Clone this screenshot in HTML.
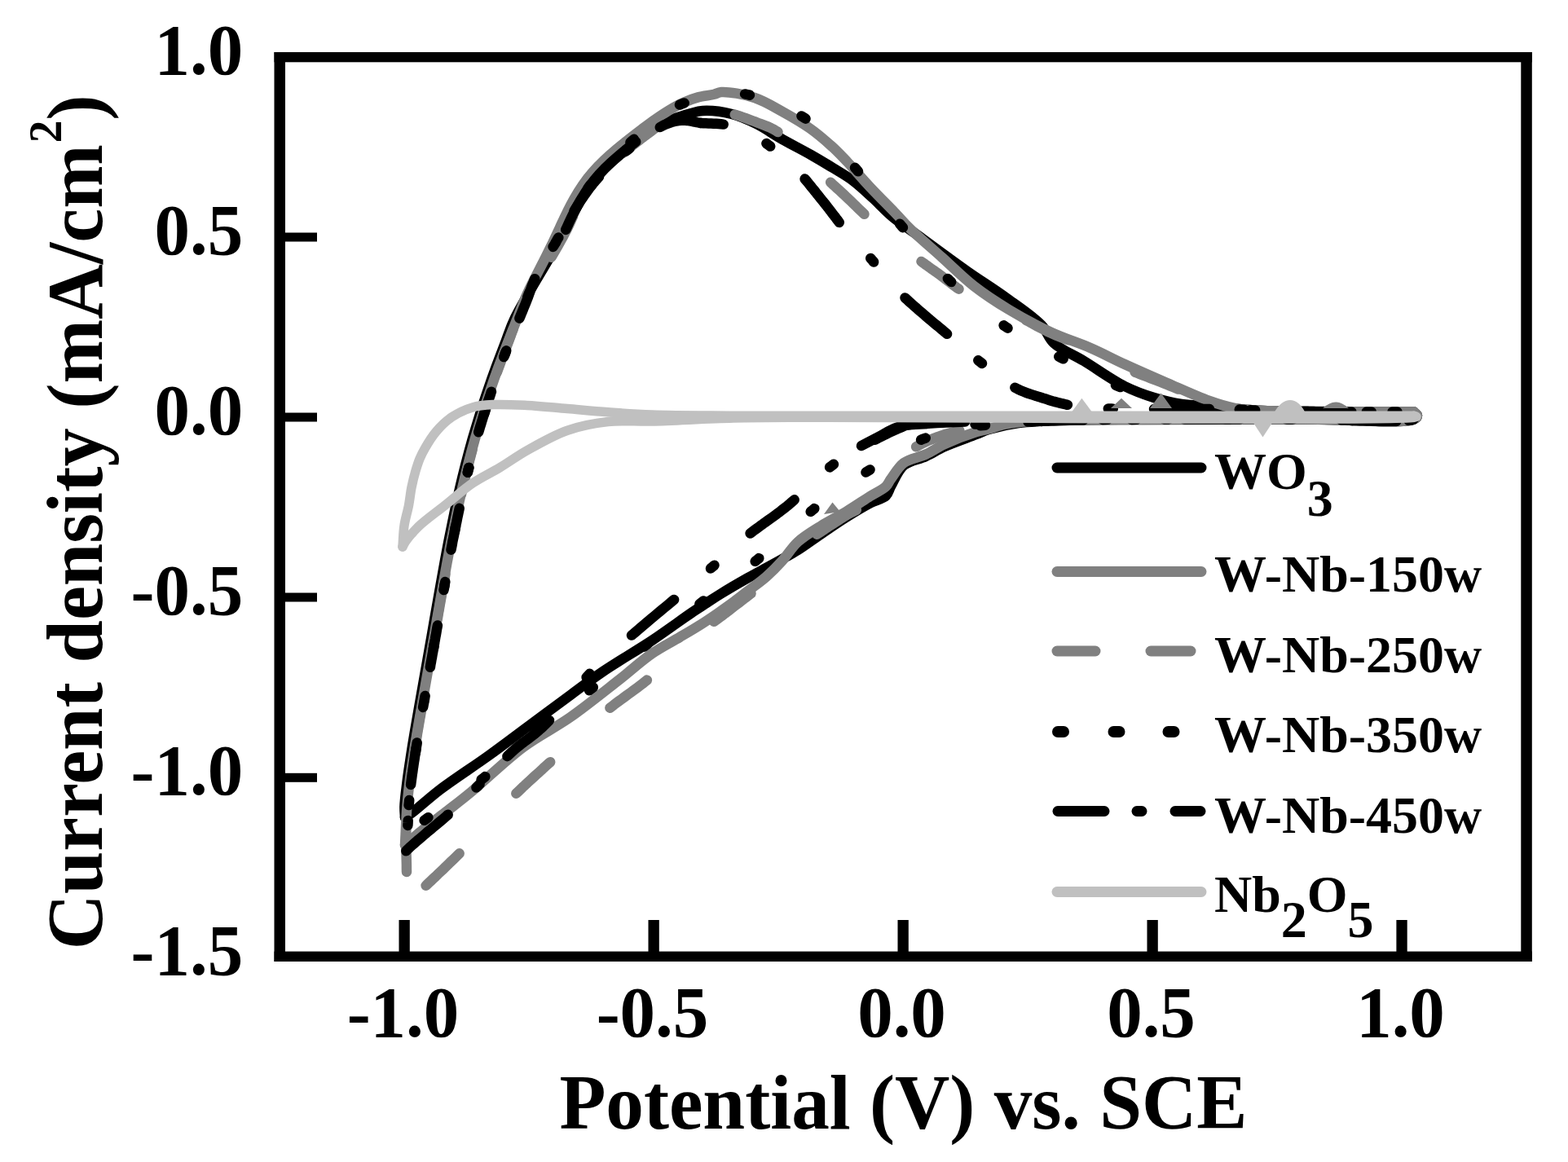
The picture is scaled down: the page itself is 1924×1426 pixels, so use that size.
<!DOCTYPE html>
<html><head><meta charset="utf-8"><title>Cyclic voltammetry</title>
<style>
html,body{margin:0;padding:0;background:#fff;width:1924px;height:1426px;overflow:hidden}
svg{display:block}
text{font-family:"Liberation Serif","Times New Roman",serif;font-weight:bold;fill:#000}
</style></head><body>
<svg width="1924" height="1426" viewBox="0 0 1924 1426" xmlns="http://www.w3.org/2000/svg">
<rect x="0" y="0" width="1924" height="1426" fill="#fff"/>
<!-- CURVES -->
<g id="curves" fill="none" stroke-linejoin="round" stroke-linecap="round">
<path d="M497.0,1003.0 C496.8,998.7 496.3,995.2 496.4,990.0 C496.6,982.1 498.3,970.0 499.5,960.0 C500.7,950.0 502.3,940.0 503.8,930.0 C505.3,920.0 506.9,910.0 508.6,900.0 C510.3,890.0 512.1,880.0 513.8,870.0 C515.6,860.0 517.3,850.0 519.1,840.0 C520.9,830.0 522.6,820.0 524.4,810.0 C526.2,800.0 527.9,790.0 529.7,780.0 C531.4,770.0 533.2,760.0 534.9,750.0 C536.7,740.0 538.4,730.0 540.2,720.0 C542.0,710.0 543.8,700.0 545.6,690.0 C547.5,680.0 549.3,670.0 551.3,660.0 C553.3,650.0 555.3,640.0 557.4,630.0 C559.5,620.0 561.7,610.0 564.0,600.0 C566.3,590.0 568.7,580.0 571.3,570.0 C573.9,560.0 576.6,550.0 579.4,540.0 C582.3,530.0 585.3,520.0 588.4,510.0 C591.5,500.0 594.8,490.0 598.2,480.0 C601.6,470.0 605.1,460.0 608.8,450.0 C612.5,440.0 616.3,430.0 620.2,420.0 C624.1,410.0 625.8,402.8 632.0,390.0 C644.1,364.8 683.2,303.0 694.2,281.9 C698.6,273.5 699.7,269.8 702.7,263.8 C705.7,257.9 708.8,251.9 712.1,246.2 C715.5,240.4 718.9,234.7 722.8,229.3 C726.7,223.9 730.9,218.7 735.4,213.7 C739.8,208.8 744.6,204.1 749.5,199.6 C754.4,195.1 759.5,190.8 764.6,186.5 C769.7,182.2 774.0,178.7 780.2,174.0 C788.9,167.4 802.3,156.1 812.0,151.0 C819.1,147.3 825.7,146.1 832.0,144.0 C837.6,142.1 842.8,140.4 848.0,139.0 C852.8,137.7 856.2,136.3 862.0,136.0 C871.2,135.5 886.7,137.2 898.0,140.0 C908.6,142.7 918.0,147.1 928.0,152.0 C938.7,157.3 949.0,164.8 960.0,171.0 C971.3,177.4 984.1,183.8 995.0,190.0 C1004.6,195.5 1013.2,200.6 1022.0,206.0 C1030.5,211.3 1038.9,215.9 1047.0,222.0 C1055.6,228.5 1063.9,236.6 1072.0,244.0 C1079.9,251.3 1086.1,258.6 1095.0,266.0 C1105.6,274.9 1118.4,283.1 1132.0,293.0 C1148.5,305.0 1169.3,320.5 1187.0,333.0 C1203.2,344.4 1218.8,353.9 1234.0,365.0 C1249.1,375.9 1267.7,388.1 1278.0,399.0 C1285.1,406.5 1285.9,414.4 1293.0,421.0 C1302.0,429.4 1316.8,435.0 1330.0,443.0 C1345.5,452.4 1364.4,466.2 1380.0,474.0 C1392.7,480.3 1404.0,484.3 1416.0,488.0 C1427.4,491.5 1438.1,494.2 1450.0,496.0 C1462.7,498.0 1475.9,497.8 1490.0,499.0 C1505.7,500.3 1522.6,502.5 1540.0,503.5 C1559.1,504.6 1576.0,504.7 1600.0,505.0 C1636.0,505.5 1690.0,505.3 1735.0,505.5" stroke="#000" stroke-width="12.5"/>
<path d="M1735.0,505.5 C1736.3,507.0 1739.0,508.5 1739.0,510.0 C1739.0,511.5 1737.8,513.3 1735.0,514.5 C1721.9,520.4 1649.4,514.4 1600.0,514.5 C1539.9,514.6 1455.2,514.7 1400.0,515.0 C1360.9,515.2 1327.6,515.0 1300.0,516.0 C1280.5,516.7 1265.3,516.9 1250.0,519.0 C1236.7,520.8 1222.5,524.1 1213.0,527.0 C1206.8,528.9 1204.2,530.6 1198.0,533.0 C1188.1,536.9 1170.2,543.0 1159.0,548.0 C1150.2,552.0 1144.1,556.3 1136.0,560.0 C1127.4,564.0 1116.1,565.0 1109.0,571.0 C1101.7,577.2 1097.0,590.0 1093.0,597.0 C1090.4,601.6 1090.3,605.4 1087.0,608.6 C1082.7,612.7 1074.6,613.8 1067.6,617.5 C1058.7,622.2 1047.8,628.8 1038.0,635.0 C1027.9,641.3 1017.9,648.3 1008.0,655.0 C998.2,661.6 987.7,669.5 979.0,675.0 C972.1,679.4 966.4,682.4 960.0,686.0 C953.4,689.7 946.8,693.3 940.0,697.0 C932.8,700.9 926.1,704.4 918.0,709.0 C907.9,714.7 893.3,723.2 884.0,729.0 C877.3,733.1 872.7,736.3 867.0,740.0 C861.3,743.7 857.1,746.2 850.0,751.0 C837.7,759.3 817.6,774.3 800.0,786.0 C781.0,798.6 757.8,811.9 740.0,824.0 C725.1,834.1 714.0,842.7 700.0,853.0 C684.2,864.5 666.7,877.7 650.0,890.0 C633.3,902.3 617.5,914.4 600.0,927.0 C581.0,940.7 557.0,956.1 540.0,969.0 C526.8,979.0 513.8,991.2 506.0,997.0 C502.1,999.9 500.0,1001.0 497.0,1003.0" stroke="#000" stroke-width="12.5"/>
<path d="M497.0,1037.0 C497.3,1031.3 497.5,1026.5 497.8,1020.0 C498.2,1011.4 498.6,1000.0 499.4,990.0 C500.2,980.0 501.3,970.0 502.5,960.0 C503.7,950.0 505.3,940.0 506.8,930.0 C508.3,920.0 509.9,910.0 511.6,900.0 C513.3,890.0 515.1,880.0 516.8,870.0 C518.6,860.0 520.3,850.0 522.1,840.0 C523.9,830.0 525.6,820.0 527.4,810.0 C529.2,800.0 530.9,790.0 532.7,780.0 C534.4,770.0 536.2,760.0 537.9,750.0 C539.7,740.0 541.4,730.0 543.2,720.0 C545.0,710.0 546.8,700.0 548.6,690.0 C550.5,680.0 552.3,670.0 554.3,660.0 C556.3,650.0 558.3,640.0 560.4,630.0 C562.5,620.0 564.7,610.0 567.0,600.0 C569.3,590.0 571.7,580.0 574.3,570.0 C576.9,560.0 579.6,550.0 582.4,540.0 C585.3,530.0 588.3,520.0 591.4,510.0 C594.5,500.0 597.8,490.0 601.2,480.0 C604.6,470.0 608.1,460.0 611.8,450.0 C615.5,440.0 619.3,430.0 623.2,420.0 C627.1,410.0 631.0,400.0 635.0,390.0 C639.0,380.0 642.2,370.8 647.1,360.0 C653.2,346.6 663.7,327.4 669.4,315.9 C673.0,308.6 675.3,303.9 678.2,297.9 C681.1,291.9 683.9,285.8 686.7,279.8 C689.5,273.8 692.2,267.7 695.2,261.7 C698.1,255.7 701.1,249.8 704.4,244.0 C707.7,238.2 711.2,232.5 715.0,227.0 C718.8,221.5 722.9,216.2 727.3,211.2 C731.6,206.2 736.3,201.4 741.1,196.8 C745.9,192.2 750.9,187.8 756.0,183.5 C761.1,179.2 766.4,175.0 771.6,170.9 C776.8,166.8 782.1,162.7 787.4,158.7 C792.7,154.7 798.0,150.6 803.5,146.8 C809.0,143.0 814.5,139.2 820.2,135.8 C825.9,132.4 831.7,129.0 837.8,126.3 C843.8,123.6 850.1,121.1 856.5,119.4 C862.9,117.6 871.0,117.1 876.2,115.8 C879.8,114.9 880.9,113.3 885.0,113.0 C893.6,112.4 913.3,115.8 926.0,120.0 C938.2,124.0 948.9,130.9 960.0,137.0 C971.2,143.2 982.8,149.8 993.0,157.0 C1002.7,163.8 1011.8,171.6 1020.0,179.0 C1027.4,185.6 1032.9,191.6 1040.0,199.0 C1048.4,207.9 1057.4,218.8 1067.0,229.0 C1077.4,240.1 1090.8,253.4 1100.0,263.0 C1106.6,269.9 1110.0,274.2 1117.0,281.0 C1127.2,290.9 1143.0,304.3 1156.0,316.0 C1169.0,327.7 1181.3,340.3 1195.0,351.0 C1208.6,361.6 1222.7,370.8 1238.0,380.0 C1254.3,389.8 1272.8,400.0 1290.0,408.0 C1306.1,415.5 1322.6,420.3 1338.0,427.0 C1352.6,433.3 1365.2,440.2 1380.0,447.0 C1396.4,454.5 1414.6,462.5 1432.0,470.0 C1449.3,477.5 1468.8,486.6 1484.0,492.0 C1495.5,496.1 1505.1,499.1 1515.0,501.0 C1523.7,502.7 1529.9,502.9 1540.0,503.5 C1555.7,504.5 1576.0,504.7 1600.0,505.0 C1636.0,505.5 1690.0,505.3 1735.0,505.5" stroke="#808080" stroke-width="12.5"/>
<path d="M1735.0,505.5 C1736.3,507.0 1739.0,508.5 1739.0,510.0 C1739.0,511.5 1737.8,513.3 1735.0,514.5 C1721.9,520.4 1653.9,514.4 1600.0,514.5 C1519.7,514.6 1357.6,513.9 1300.0,515.5 C1276.7,516.1 1263.5,516.7 1251.0,518.0 C1243.2,518.8 1238.3,519.6 1232.0,521.0 C1225.6,522.4 1219.0,524.9 1213.0,526.5 C1207.7,527.9 1204.1,528.1 1198.0,530.0 C1188.0,533.1 1170.2,539.9 1159.0,545.0 C1150.2,549.1 1144.1,553.7 1136.0,557.5 C1127.5,561.5 1116.3,562.6 1109.0,568.0 C1102.2,573.0 1097.0,582.6 1093.0,588.0 C1090.4,591.5 1090.0,594.1 1087.0,597.0 C1082.6,601.2 1074.7,604.5 1067.6,609.0 C1058.8,614.6 1048.0,622.0 1038.0,628.0 C1028.1,634.0 1017.8,638.9 1008.0,645.0 C998.1,651.2 987.2,657.5 979.0,665.0 C971.4,671.9 966.6,680.7 960.0,688.0 C953.6,695.1 947.0,701.8 940.0,708.0 C933.0,714.1 924.9,719.7 918.0,725.0 C912.0,729.6 907.0,733.6 901.0,738.0 C894.4,742.9 887.0,748.1 880.0,753.0 C873.0,757.8 866.4,762.3 859.0,767.0 C851.1,772.0 843.0,776.7 834.0,782.0 C823.5,788.2 811.5,794.1 800.0,802.0 C786.9,811.0 774.7,822.5 760.0,834.0 C742.1,848.0 720.1,865.9 700.0,880.0 C680.8,893.5 661.3,902.7 642.0,917.0 C620.6,932.9 595.3,957.7 578.0,972.0 C566.6,981.4 558.3,987.7 549.0,995.0 C540.4,1001.7 532.4,1007.2 524.0,1014.0 C515.1,1021.2 506.0,1029.3 497.0,1037.0" stroke="#808080" stroke-width="12.5"/>
<path d="M499.0,1070.0 L498.9,1066.1 498.9,1062.2 498.8,1058.2 498.7,1054.2 498.6,1050.2 498.5,1046.2 498.4,1042.2 498.3,1038.3 498.3,1034.4 498.2,1030.7 498.2,1027.0 498.3,1023.4 498.3,1020.0 498.4,1016.6 498.5,1013.7 M509.7,914.9 L510.2,911.5 510.7,908.5 511.2,905.4 511.7,902.3 512.2,899.2 512.7,896.2 513.3,893.1 513.8,890.0 514.3,886.9 514.9,883.8 515.4,880.8 516.0,877.7 516.5,874.6 517.0,871.5 517.6,868.5 518.1,865.4 518.7,862.3 519.2,859.2 519.3,858.7 M536.5,760.7 L537.1,757.7 537.6,754.6 538.1,751.5 538.7,748.5 539.2,745.4 539.7,742.3 540.3,739.2 540.8,736.2 541.4,733.1 541.9,730.0 542.5,726.9 543.0,723.8 543.6,720.8 544.1,717.7 544.7,714.6 545.2,711.5 545.8,708.5 546.3,705.4 546.4,704.6 M565.9,607.0 L566.6,603.8 567.3,600.8 568.0,597.7 568.8,594.6 569.5,591.5 570.2,588.5 571.0,585.4 571.7,582.3 572.5,579.2 573.2,576.1 574.0,573.1 574.8,570.0 575.6,566.9 576.4,563.8 577.2,560.8 578.0,557.7 578.9,554.6 579.6,551.7 M609.8,456.9 L610.9,453.8 612.0,450.8 613.2,447.7 614.3,444.6 615.4,441.5 616.6,438.4 617.8,435.4 619.0,432.3 620.1,429.2 621.3,426.1 622.5,423.1 623.7,420.0 624.8,417.0 625.9,414.1 627.1,410.6 628.4,407.1 629.5,404.3 629.7,403.5 M676.5,315.7 L679.3,310.9 681.0,307.9 682.6,305.1 684.2,302.3 685.7,299.6 688.6,294.5 691.1,289.9 693.3,285.7 695.2,282.2 696.7,279.2 698.2,276.0 699.5,273.3 700.8,270.4 702.0,267.5 703.1,265.4 M764.3,188.1 L766.9,185.9 769.3,184.0 771.7,182.0 774.1,180.1 776.5,178.2 778.9,176.3 781.3,174.4 783.7,172.5 786.2,170.6 788.6,168.8 791.0,166.9 793.5,165.1 796.0,163.2 798.4,161.4 800.9,159.5 803.4,157.7 805.9,155.9 808.3,154.1 809.4,153.3 M901.8,140.6 L904.9,141.6 908.1,142.7 911.3,143.8 914.5,144.9 917.7,146.1 920.9,147.3 924.2,148.5 927.4,149.7 930.6,151.0 933.8,152.2 937.0,153.4 940.2,154.6 943.4,155.9 946.6,157.4 949.8,159.1 953.0,161.0 954.5,162.0 M1019.1,223.7 L1021.3,225.8 1024.2,228.4 1027.1,231.1 1030.0,233.7 1032.9,236.4 1035.8,239.0 1038.6,241.7 1041.4,244.3 1044.0,246.8 1046.7,249.4 1049.3,251.9 1051.8,254.5 1054.4,257.0 1057.1,259.6 1059.7,262.1 1060.5,262.8 M1130.5,321.0 L1133.5,323.1 1136.3,325.2 1139.2,327.2 1142.1,329.3 1145.0,331.3 1147.9,333.4 1150.8,335.4 1153.7,337.5 1156.6,339.7 1159.4,341.9 1162.2,344.0 1165.0,346.2 1167.8,348.4 1170.7,350.6 1173.7,352.8 1176.5,354.7 M1259.1,392.9 L1262.2,394.6 1264.9,396.1 1267.5,397.5 1270.2,399.0 1272.8,400.4 1276.8,402.5 1280.8,404.5 1284.7,406.5 1288.7,408.4 1292.5,410.1 1296.2,411.7 1300.0,413.2 1303.7,414.7 1307.5,416.1 1310.6,417.2 M1392.6,456.6 L1395.5,457.8 1399.5,459.4 1403.5,461.0 1407.6,462.5 1411.7,464.1 1415.8,465.7 1419.9,467.2 1423.9,468.8 1428.0,470.4 1432.0,472.0 1436.0,473.6 1440.1,475.3 1444.3,477.1 1445.5,477.6 M1532.5,503.0 L1535.6,503.2 1539.2,503.5 1542.4,503.6 1546.3,503.8 1550.2,504.0 1554.4,504.2 1558.6,504.3 1563.1,504.4 1566.1,504.5 1569.2,504.5 1572.4,504.6 1575.6,504.6 1578.9,504.7 1582.3,504.8 1585.7,504.8 1589.2,504.8 1589.5,504.9 M1680.6,505.4 L1684.3,505.4 1688.0,505.4 1691.7,505.4 1695.4,505.4 1699.1,505.4 1702.7,505.4 1706.4,505.4 1710.1,505.4 1713.7,505.4 1717.3,505.5 1720.9,505.5 1724.5,505.5 1728.0,505.5 1731.5,505.5 1735.0,505.5" stroke="#808080" stroke-width="12.5"/>
<path d="M1675.3,516.4 L1668.7,516.2 1664.5,516.1 1660.3,515.9 1656.0,515.8 1651.7,515.6 1647.4,515.5 1643.1,515.3 1638.7,515.2 1634.3,515.1 1630.0,514.9 1625.6,514.8 1621.3,514.7 1618.3,514.7 M1509.0,514.2 L1500.3,514.2 1491.6,514.2 1482.8,514.1 1474.0,514.1 1465.1,514.1 1456.3,514.0 1452.0,514.0 M1342.7,514.2 L1334.7,514.3 1328.1,514.4 1321.9,514.5 1315.9,514.6 1310.2,514.7 1304.9,514.8 1300.0,515.0 1295.8,515.1 1291.9,515.3 1288.1,515.5 1285.7,515.6 M1177.3,528.3 L1173.5,529.3 1169.8,530.2 1166.1,531.2 1162.5,532.2 1159.0,533.3 1155.5,534.4 1152.1,535.6 1149.0,536.7 1146.1,537.9 1143.2,539.1 1140.3,540.3 1137.4,541.5 1134.6,542.8 1131.8,544.2 1129.1,545.5 1125.6,547.4 1124.1,548.2 M1050.8,625.9 L1048.1,627.3 1044.9,628.8 1041.8,630.4 1038.8,632.1 1035.7,634.0 1032.6,636.0 1029.5,637.9 1026.4,639.9 1023.3,641.9 1020.2,643.9 1017.2,645.9 1014.1,647.9 1011.0,650.0 1008.0,652.0 1005.0,654.0 1002.3,655.7 M921.5,728.3 L918.6,730.5 915.4,733.0 912.6,735.1 909.7,737.4 906.7,739.7 903.6,742.0 900.5,744.4 897.4,746.8 894.3,749.2 891.2,751.6 888.2,753.8 885.4,756.0 882.6,758.1 880.0,760.0 877.0,762.1 876.1,762.8 M793.9,834.6 L790.7,837.2 788.1,839.3 785.4,841.3 782.6,843.4 779.8,845.5 777.0,847.6 774.1,849.7 771.2,851.8 768.3,853.9 765.3,856.1 762.4,858.2 759.4,860.4 756.5,862.6 753.5,864.8 750.6,867.1 748.4,868.8 M675.2,935.2 L672.8,937.3 669.9,939.9 667.0,942.5 664.2,945.2 661.3,947.8 658.4,950.4 655.5,953.0 652.7,955.6 649.8,958.3 646.9,960.9 644.1,963.6 641.2,966.2 638.4,968.9 635.5,971.7 633.3,973.8 M563.7,1047.3 L561.4,1049.6 558.4,1052.6 555.4,1055.5 552.3,1058.4 549.3,1061.4 546.3,1064.3 543.3,1067.2 540.3,1070.0 537.3,1072.8 534.5,1075.6 531.7,1078.2 528.9,1080.8 526.3,1083.3 523.8,1085.6 522.6,1086.8" stroke="#808080" stroke-width="12.5"/>
<path d="M694.2,281.9 C697.0,275.9 699.7,269.8 702.7,263.8 C705.7,257.9 708.8,251.9 712.1,246.2 C715.5,240.4 718.9,234.7 722.8,229.3 C726.7,223.9 730.9,218.7 735.4,213.7 C739.8,208.8 744.6,204.1 749.5,199.6 C754.4,195.1 759.5,190.8 764.6,186.5 C769.7,182.2 775.0,178.2 780.2,174.0" stroke="#000" stroke-width="12.5"/>
<path d="M501.6,988.1 L502.0,984.4 502.2,982.1 M509.8,923.8 L510.2,920.8 510.7,917.9 M520.6,859.9 L521.1,856.9 521.6,854.0 M531.9,796.0 L532.4,793.1 532.9,790.1 M545.2,719.9 L545.7,716.9 546.3,714.0 M557.9,652.2 L558.4,649.2 559.0,646.3 M573.8,579.8 L574.5,576.9 575.3,574.0 M594.0,508.2 L594.9,505.4 595.8,502.5 M619.1,435.9 L620.2,433.1 621.2,430.3 M647.2,364.6 L648.5,361.5 649.5,359.0 M682.3,296.7 L683.9,293.8 685.3,291.5 M721.5,230.9 L723.3,228.4 725.0,226.1 M773.4,174.8 L776.0,172.5 777.9,170.8 M834.0,128.6 L837.2,127.3 839.6,126.4" stroke="#000" stroke-width="12.5"/>
<path d="M914.1,115.4 L917.0,116.0 919.9,116.7 M983.5,142.4 L986.0,144.0 988.5,145.7 M1049.0,205.8 L1051.0,208.0 1053.0,210.3 M1104.1,274.7 L1106.0,277.0 1107.9,279.3 M1162.9,341.9 L1165.0,344.0 1167.2,346.1 M1231.6,399.3 L1234.0,401.0 1236.5,402.7 M1299.3,437.7 L1302.0,439.0 1304.7,440.3 M1369.0,472.7 L1372.0,474.0 1374.5,475.1 M1443.1,496.4 L1446.7,497.0 1449.0,497.2 M1520.8,502.6 L1524.5,502.8 1526.8,502.9 M1598.8,505.0 L1602.8,505.0 1604.8,505.1 M1676.8,505.4 L1680.6,505.4 1682.8,505.4" stroke="#000" stroke-width="12.5"/>
<path d="M1734.5,514.7 L1731.0,515.7 1728.6,516.0 M1659.5,515.9 L1656.0,515.7 1653.6,515.7 M1584.4,514.5 L1580.3,514.5 1578.4,514.5 M1509.3,514.4 L1503.3,514.4 M1434.2,514.4 L1428.2,514.4 M1359.0,514.8 L1353.0,514.9 M1283.9,516.6 L1279.3,516.8 1277.9,516.9 M1209.0,521.7 L1206.0,522.0 1203.0,522.3 M1135.7,537.6 L1132.9,538.6 1130.1,539.8 M1067.5,576.4 L1065.0,578.0 1062.5,579.6 M999.3,624.1 L997.0,626.0 994.7,627.9 M931.3,685.1 L929.0,687.0 926.7,688.9 M863.2,737.5 L860.0,740.0 858.4,741.2 M795.0,790.0 L791.7,792.6 790.3,793.7 M727.8,843.5 L723.9,846.6 723.1,847.2 M660.3,896.8 L656.5,899.9 655.7,900.6 M595.3,953.1 L593.0,955.0 590.6,956.8 M525.4,1003.2 L523.0,1005.0 520.6,1006.8" stroke="#000" stroke-width="12.5"/>
<path d="M504.1,962.9 L504.6,959.2 505.0,956.2 505.4,953.1 505.8,950.0 506.3,946.9 506.7,943.8 507.2,940.8 507.6,937.7 508.1,934.6 508.6,931.5 509.0,928.5 509.5,925.4 510.0,922.3 510.5,919.2 511.0,916.1 511.5,913.1 511.7,911.5 M527.9,818.7 L528.4,815.4 529.0,812.3 529.5,809.2 530.1,806.2 530.6,803.1 531.2,800.0 531.7,796.9 532.3,793.8 532.8,790.8 533.3,787.7 533.9,784.6 534.4,781.5 535.0,778.5 535.5,775.4 536.0,772.3 536.6,769.2 536.9,767.5 M553.5,674.7 L554.1,671.5 554.7,668.5 555.2,665.4 555.8,662.3 556.5,659.2 557.1,656.2 557.7,653.1 558.3,650.0 558.9,646.9 559.5,643.8 560.2,640.8 560.8,637.7 561.4,634.6 562.1,631.5 562.7,628.5 563.4,625.4 563.7,623.8 M587.2,530.2 L588.2,526.9 589.1,523.8 590.1,520.8 591.0,517.7 592.0,514.6 592.9,511.5 593.9,508.5 594.9,505.4 595.8,502.3 596.8,499.2 597.8,496.1 598.8,493.1 599.8,490.0 600.9,486.9 601.9,483.8 602.9,480.8 603.0,480.7 M637.4,390.6 L638.7,387.5 639.9,384.5 641.1,381.7 642.2,378.9 643.9,374.9 645.4,371.2 646.7,367.8 648.0,364.5 649.1,361.3 650.1,358.4 651.2,355.2 652.3,352.1 653.5,348.9 654.7,346.1 655.8,343.3 656.3,342.2 M704.6,258.8 L706.4,255.8 708.0,253.2 709.7,250.6 711.3,248.0 713.0,245.5 714.8,242.9 716.5,240.4 718.3,237.9 720.0,235.4 721.9,232.9 723.7,230.4 725.6,228.0 727.5,225.6 729.5,223.2 731.5,220.9 733.5,218.6 735.1,216.8 M809.8,156.1 L812.5,154.6 815.3,153.2 818.1,152.0 820.9,151.0 823.8,150.0 826.8,149.2 829.7,148.5 832.8,148.0 835.9,147.7 839.2,147.6 842.7,147.9 846.2,148.4 849.2,148.9 852.2,149.5 855.2,150.2 858.2,150.7 859.9,151.0 M500.4,1012.9 L500.6,1009.8 500.7,1006.9 M519.1,868.0 L519.7,864.6 520.2,862.1 M544.5,724.0 L545.1,720.8 545.5,718.1 M573.9,579.7 L574.7,576.1 575.3,573.9 M618.2,438.1 L619.3,435.1 620.3,432.5 M678.6,302.9 L680.4,300.1 681.8,297.8 M767.9,185.7 L770.3,183.8 772.6,181.9" stroke="#000" stroke-width="12.5"/>
<path d="M860.0,151.0 L863.1,151.2 866.2,151.3 869.3,151.4 872.5,151.5 875.6,151.7 878.7,151.8 881.8,152.0 884.8,152.3 887.7,152.6 M987.6,219.6 L990.4,222.9 992.4,225.4 994.5,228.0 996.5,230.5 998.6,233.0 1000.6,235.5 1002.5,238.0 1004.4,240.3 1007.2,243.8 1009.7,246.9 1011.8,249.5 1013.8,252.0 1015.7,254.5 1017.6,256.9 1019.4,259.3 1021.8,262.5 1024.3,265.7 1026.1,268.1 1028.0,270.5 1029.8,272.9 M1110.5,365.5 L1113.2,367.9 1115.8,370.3 1118.4,372.6 1121.0,375.0 1123.6,377.2 1126.1,379.5 1128.7,381.7 1131.2,383.8 1133.6,385.9 1136.0,388.0 1138.6,390.2 1141.0,392.3 1143.4,394.3 1145.7,396.2 1148.0,398.1 1150.4,400.0 1152.8,402.0 1155.3,404.1 1157.9,406.3 1161.0,408.8 1162.1,409.8 M1245.4,475.7 L1248.5,477.3 1251.8,478.9 1255.1,480.3 1258.4,481.6 1261.6,482.8 1264.9,483.9 1268.1,484.9 1271.4,485.9 1274.7,486.9 1278.0,488.0 1281.3,489.1 1284.7,490.1 1288.0,491.2 1291.3,492.2 1294.7,493.1 1298.1,494.0 1301.5,494.9 1304.9,495.7 1308.4,496.5 1309.9,496.8 M1416.0,502.1 L1419.5,502.1 1423.7,502.0 1427.9,502.0 1432.1,502.0 1436.4,502.0 1440.7,502.0 1445.0,501.9 1449.3,501.9 1453.5,501.9 1457.8,501.9 1462.0,501.9 1466.1,501.9 1470.2,501.9 1474.2,501.9 1478.1,502.0 1481.6,502.0 1484.0,502.1 M1590.4,504.8 L1594.6,504.9 1598.2,505.0 1602.8,505.0 1608.6,505.1 1611.6,505.1 1614.7,505.2 1617.8,505.2 1621.0,505.2 1624.2,505.2 1627.5,505.3 1630.8,505.3 1634.2,505.3 1637.6,505.3 1641.0,505.3 1644.5,505.3 1648.0,505.3 1651.5,505.4 1655.1,505.4 1658.4,505.4 M940.4,176.1 L943.0,178.0 945.2,179.6 M1068.2,316.9 L1070.9,320.0 1072.1,321.5 M1200.3,442.3 L1202.7,444.2 1205.0,446.0 M1359.8,501.5 L1363.8,501.6 1365.8,501.7 M1534.2,503.3 L1538.5,503.5 1540.2,503.5 M1708.5,505.4 L1713.7,505.4 1714.5,505.4" stroke="#000" stroke-width="12.5"/>
<path d="M1713.4,517.0 L1709.3,517.1 1706.2,517.1 1702.9,517.1 1699.5,517.0 1695.9,517.0 1692.3,516.9 1688.6,516.8 1684.7,516.7 1680.8,516.6 1676.9,516.5 1672.8,516.3 1668.7,516.2 1664.5,516.0 1660.3,515.9 1656.0,515.7 1651.7,515.6 1647.4,515.4 1645.4,515.4 M1521.4,514.6 L1511.9,514.6 1503.6,514.6 1495.3,514.6 1486.9,514.6 1478.5,514.6 1470.0,514.6 1461.5,514.6 1453.4,514.6 M1329.4,515.5 L1325.6,515.5 1318.9,515.6 1312.3,515.7 1306.0,515.9 1300.0,516.0 1296.3,516.1 1292.7,516.2 1289.1,516.3 1285.6,516.4 1282.1,516.5 1278.7,516.7 1275.3,516.8 1271.9,516.9 1268.6,517.1 1265.4,517.2 1262.1,517.3 1261.4,517.4 M1137.5,520.1 L1133.9,520.1 1130.7,520.0 1127.6,520.1 1123.3,520.2 1119.4,520.5 1116.0,521.0 1112.9,521.6 1109.8,522.6 1106.8,523.9 1103.7,525.3 1100.3,526.7 1096.7,528.3 1093.8,529.7 1090.6,531.2 1087.3,532.8 1084.0,534.4 1080.5,536.2 1077.0,537.9 1073.6,539.7 M974.7,613.3 L971.1,616.5 968.4,618.9 965.7,621.1 963.0,623.2 960.3,625.3 957.6,627.4 954.9,629.4 952.2,631.5 949.5,633.5 946.7,635.5 944.0,637.4 941.2,639.4 938.5,641.3 935.8,643.3 933.1,645.2 930.4,647.2 927.8,649.1 925.1,651.1 922.6,653.0 920.6,654.5 M827.1,735.9 L823.2,739.1 819.9,741.9 816.5,744.7 813.1,747.6 809.7,750.4 806.2,753.3 802.7,756.2 799.3,759.1 795.8,762.1 792.4,764.9 789.0,767.8 785.6,770.6 782.3,773.4 779.1,776.2 776.0,778.9 775.0,779.6 M674.0,884.0 L671.5,886.5 668.5,889.6 666.0,892.0 662.9,894.8 659.9,897.3 657.0,899.8 654.1,902.1 651.3,904.3 648.5,906.4 645.7,908.5 642.9,910.6 640.1,912.6 637.4,914.8 634.6,917.0 631.9,919.4 629.0,921.9 626.1,924.6 623.3,927.3 622.4,928.2 M549.7,999.8 L547.1,1002.1 543.5,1005.2 539.7,1008.4 535.8,1011.7 531.8,1015.0 527.8,1018.4 523.7,1021.7 519.8,1025.1 515.9,1028.4 512.1,1031.6 508.6,1034.7 505.3,1037.6 502.2,1040.4 499.5,1043.0 498.3,1044.3 M1586.4,514.5 L1580.4,514.5 1580.4,514.5 M1394.4,514.8 L1388.4,514.9 M1202.5,520.4 L1198.7,520.5 1196.5,520.6 M1022.9,569.8 L1020.0,572.0 1018.1,573.4 M876.5,693.7 L874.0,695.9 872.0,697.6 M723.6,826.8 L720.1,830.7 719.6,831.2 M588.6,962.3 L586.4,964.6 584.4,966.5" stroke="#000" stroke-width="12.5"/>
<g stroke="none" fill="#808080">
<path d="M1363,501 L1376,488.7 L1389,501 Z"/>
<path d="M1411,501 L1424.7,482.5 L1438,501 Z"/>
<path d="M1623,501 Q1632,493 1639.3,493.5 Q1646,493 1655,501 Z"/>
<path d="M1011,631 L1021.5,616.5 L1031,628 Z"/>
</g>
<g fill="none" stroke="#000" stroke-width="12.5" stroke-linecap="round" stroke-linejoin="round">
<path d="M1184,517.5 L1150,519 L1112,521.5 Q1100,523 1080,535 L1057,547"/>
</g>
<path d="M494.0,671.0 C494.7,662.3 494.7,653.6 496.0,645.0 C497.3,636.5 500.1,627.8 501.6,619.7 C503.0,612.2 503.6,605.0 505.0,598.0 C506.4,591.2 508.1,584.2 509.9,578.1 C511.5,572.7 513.0,567.8 515.0,563.0 C516.9,558.4 518.8,554.6 521.6,549.8 C525.1,543.7 529.6,536.1 534.9,529.9 C540.5,523.3 547.4,516.6 554.8,511.6 C562.3,506.6 571.3,502.4 579.8,499.9 C587.9,497.5 595.3,497.1 604.7,496.6 C616.8,495.9 631.8,496.7 646.3,497.4 C662.2,498.2 679.6,500.2 696.2,501.6 C712.8,503.0 729.1,504.6 746.1,505.8 C763.7,507.1 779.3,508.3 800.0,509.0 C828.2,510.0 857.7,509.9 900.0,510.2 C973.2,510.6 1085.6,510.2 1200.0,510.2 C1352.7,510.2 1556.7,510.2 1735.0,510.2" stroke="#c0c0c0" stroke-width="11.5"/>
<path d="M1735.0,510.2 C1736.0,510.5 1738.0,510.9 1738.0,511.2 C1738.0,511.5 1736.9,511.9 1735.0,512.2 C1705.6,517.0 1132.0,511.7 1000.0,512.2 C951.3,512.4 933.3,512.2 900.0,513.0 C866.7,513.8 828.2,516.3 800.0,517.0 C779.3,517.5 763.6,515.6 746.1,517.5 C729.0,519.4 712.5,522.5 696.2,528.2 C679.2,534.1 661.1,544.7 646.3,553.0 C633.9,560.0 624.2,567.3 613.0,574.0 C602.0,580.6 590.6,585.7 579.8,593.1 C568.4,600.9 557.6,610.8 546.5,619.7 C535.4,628.6 522.0,638.0 513.3,646.3 C506.9,652.5 501.3,659.3 498.0,664.0 C496.1,666.8 495.3,668.7 494.0,671.0" stroke="#c0c0c0" stroke-width="11.5"/>
<g stroke="none" fill="#c0c0c0">
<path d="M1314,507 L1327.4,488.7 L1341,507 Z"/>
<path d="M1563,507 Q1572,491 1583,491 Q1594,491 1602,507 Z"/>
<path d="M1536,516 L1549.5,536.5 L1563,516 Z"/>
</g>
</g>
<!-- FRAME -->
<g fill="#000">
<rect x="336.5" y="64" width="1543.5" height="12.3"/>
<rect x="336.5" y="1167.6" width="1543.5" height="12.4"/>
<rect x="336.5" y="64" width="13.5" height="1116"/>
<rect x="1866.3" y="64" width="13.5" height="1116"/>
<!-- y ticks -->
<rect x="350" y="285.5" width="39" height="11"/>
<rect x="350" y="506.5" width="39" height="11"/>
<rect x="350" y="727.5" width="39" height="11"/>
<rect x="350" y="948.8" width="39" height="11"/>
<!-- x ticks -->
<rect x="489.5" y="1129" width="13.3" height="40"/>
<rect x="795.5" y="1129" width="13.3" height="40"/>
<rect x="1101.5" y="1129" width="13.3" height="40"/>
<rect x="1407.5" y="1129" width="13.3" height="40"/>
<rect x="1713.4" y="1129" width="13.3" height="40"/>
</g>
<!-- TICK LABELS -->
<g font-size="87" text-anchor="end">
<text transform="translate(298.3,91.0) scale(1,1.03)">1.0</text>
<text transform="translate(298.3,311.5) scale(1,1.03)">0.5</text>
<text transform="translate(298.3,532.5) scale(1,1.03)">0.0</text>
<text transform="translate(298.3,753.5) scale(1,1.03)">-0.5</text>
<text transform="translate(298.3,974.5) scale(1,1.03)">-1.0</text>
<text transform="translate(298.3,1195.5) scale(1,1.03)">-1.5</text>
</g>
<g font-size="87" text-anchor="middle">
<text transform="translate(494.5,1271.8) scale(1,1.03)">-1.0</text>
<text transform="translate(800.5,1271.8) scale(1,1.03)">-0.5</text>
<text transform="translate(1106.5,1271.8) scale(1,1.03)">0.0</text>
<text transform="translate(1412.5,1271.8) scale(1,1.03)">0.5</text>
<text transform="translate(1718.5,1271.8) scale(1,1.03)">1.0</text>
</g>
<!-- AXIS TITLES -->
<text transform="translate(686.4,1385) scale(0.9972,1.027)" font-size="93.5">Potential (V) vs. SCE</text>
<text transform="translate(124.8,1165.2) rotate(-90) scale(1.003,1.04)" font-size="94">Current density (mA/cm<tspan font-size="55" dx="2" dy="-47.9">2</tspan><tspan dy="47.9">)</tspan></text>
<!-- LEGEND -->
<g id="legend" fill="none" stroke-linecap="round">
<line x1="1297" y1="574" x2="1474" y2="574" stroke="#000" stroke-width="13"/>
<line x1="1297" y1="701.5" x2="1474" y2="701.5" stroke="#808080" stroke-width="13"/>
<line x1="1297" y1="799" x2="1344" y2="799" stroke="#808080" stroke-width="13"/>
<line x1="1412" y1="799" x2="1461" y2="799" stroke="#808080" stroke-width="13"/>
<line x1="1298" y1="898" x2="1305" y2="898" stroke="#000" stroke-width="14"/>
<line x1="1366.5" y1="898" x2="1373.5" y2="898" stroke="#000" stroke-width="14"/>
<line x1="1433.5" y1="898" x2="1440.5" y2="898" stroke="#000" stroke-width="14"/>
<line x1="1298" y1="995.5" x2="1355" y2="995.5" stroke="#000" stroke-width="13"/>
<line x1="1395" y1="995.5" x2="1401" y2="995.5" stroke="#000" stroke-width="13"/>
<line x1="1442" y1="995.5" x2="1473" y2="995.5" stroke="#000" stroke-width="13"/>
<line x1="1297" y1="1094.5" x2="1474" y2="1094.5" stroke="#c0c0c0" stroke-width="13"/>
</g>
<g font-size="64">
<text x="1490" y="599.7">WO<tspan dy="33">3</tspan></text>
<text x="1490" y="726.3">W-Nb-150w</text>
<text x="1490" y="825.2">W-Nb-250w</text>
<text x="1490" y="922.8">W-Nb-350w</text>
<text x="1490" y="1021.7">W-Nb-450w</text>
<text x="1490" y="1119.2">Nb<tspan dy="31">2</tspan><tspan dy="-31">O</tspan><tspan dy="31">5</tspan></text>
</g>
</svg>
</body></html>
